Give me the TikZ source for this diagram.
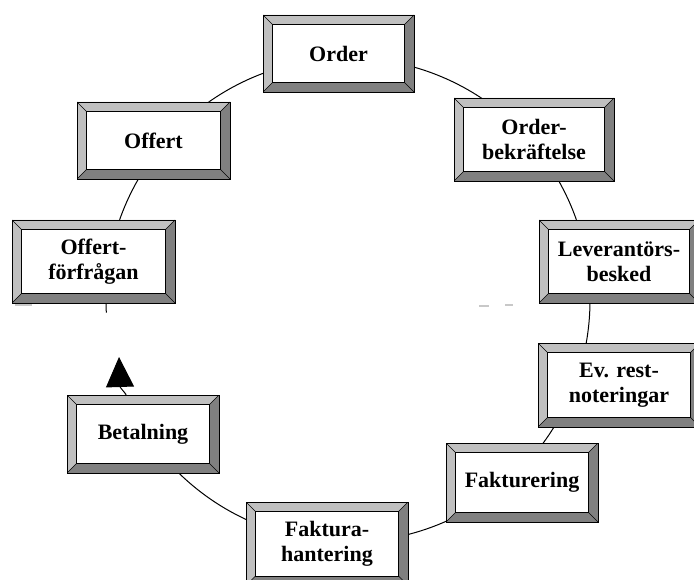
\documentclass[tikz,border=0pt]{standalone}
\usepackage{fontspec}
\setmainfont{Liberation Serif}
\usetikzlibrary{arrows.meta,calc}

\definecolor{bevlight}{RGB}{192,192,192}
\definecolor{bevdark}{RGB}{128,128,128}
\definecolor{smudge}{RGB}{200,200,200}

\newcommand\bevw{9.5pt}

\tikzset{
  % raised frame: light top/left bevel, dark bottom/right bevel, white face
  bevelbox/.style={
    rectangle, draw=black, line width=0.8pt, inner sep=0pt,
    align=center, text=black,
    font=\bfseries\fontsize{22}{25}\selectfont,
    path picture={
      \pgfpointanchor{path picture bounding box}{south west}\pgfgetlastxy{\bxl}{\byb}
      \pgfpointanchor{path picture bounding box}{north east}\pgfgetlastxy{\bxr}{\byt}
      \fill[bevlight] (\bxl,\byt) -- (\bxr,\byt) -- ({\bxr-\bevw},{\byt-\bevw}) -- ({\bxl+\bevw},{\byt-\bevw}) -- cycle;
      \fill[bevlight] (\bxl,\byt) -- ({\bxl+\bevw},{\byt-\bevw}) -- ({\bxl+\bevw},{\byb+\bevw}) -- (\bxl,\byb) -- cycle;
      \fill[bevdark] (\bxr,\byt) -- (\bxr,\byb) -- ({\bxr-\bevw},{\byb+\bevw}) -- ({\bxr-\bevw},{\byt-\bevw}) -- cycle;
      \fill[bevdark] (\bxl,\byb) -- (\bxr,\byb) -- ({\bxr-\bevw},{\byb+\bevw}) -- ({\bxl+\bevw},{\byb+\bevw}) -- cycle;
      \draw[line width=0.8pt, fill=white] ({\bxl+\bevw},{\byb+\bevw}) rectangle ({\bxr-\bevw},{\byt-\bevw});
      \draw[line width=0.6pt]
        (\bxl,\byt) -- ({\bxl+\bevw},{\byt-\bevw})
        (\bxr,\byt) -- ({\bxr-\bevw},{\byt-\bevw})
        (\bxl,\byb) -- ({\bxl+\bevw},{\byb+\bevw})
        (\bxr,\byb) -- ({\bxr-\bevw},{\byb+\bevw});
    }
  },
  ring/.style={draw=black, line width=1pt},
  smudgeline/.style={draw=smudge, line width=1.3pt}
}

\begin{document}
\begin{tikzpicture}[x=1pt,y=-1pt]
  \clip (0,0) rectangle (694,580);
  \fill[white] (0,0) rectangle (694,580);

  % the cycle ring behind the boxes, open between the enquiry and payment
  \draw[ring] (348,300) ++(177:242) arc[start angle=177, end angle=517, radius=242];

  % faint marks
  \draw[smudgeline] (15,305) -- (32,305);
  \draw[smudgeline] (479,306) -- (489,306);
  \draw[smudgeline] (505,305) -- (513,305);

  % process steps
  \node[bevelbox, minimum width=151pt, minimum height=77pt]   (order) at (338.5,53.5)  {Order};
  \node[bevelbox, minimum width=160pt, minimum height=83pt]   (conf)  at (534,139.5)   {Order-\\bekr\"aftelse};
  \node[bevelbox, minimum width=160pt, minimum height=83pt]   (lev)   at (619,261.5)   {Leverant\"ors-\\besked};
  \node[bevelbox, minimum width=162pt, minimum height=84pt]   (rest)  at (619,385)     {Ev. rest-\\noteringar};
  \node[bevelbox, minimum width=152pt, minimum height=79pt]   (fakt)  at (522,482.5)   {Fakturering};
  \node[bevelbox, minimum width=162pt, minimum height=83.5pt] (hant)  at (327,543.75)  {Faktura-\\hantering};
  \node[bevelbox, minimum width=152pt, minimum height=78pt]   (bet)   at (143,434)     {Betalning};
  \node[bevelbox, minimum width=163pt, minimum height=83pt]   (forf)  at (93.5,261.5)  {Offert-\\f\"orfr\aa gan};
  \node[bevelbox, minimum width=153pt, minimum height=77pt]   (off)   at (153.5,140.5) {Offert};

  % closing arrow from payment back towards the enquiry
  \coordinate (payout) at ($(bet.north west)!0.39!(bet.north east)$);
  \coordinate (paybend) at (120,387);
  \coordinate (paytip) at (119,357);
  \draw[ring, -{Triangle[width=28pt,length=30pt]}] (payout) -- (paybend) -- (paytip);
\end{tikzpicture}
\end{document}
